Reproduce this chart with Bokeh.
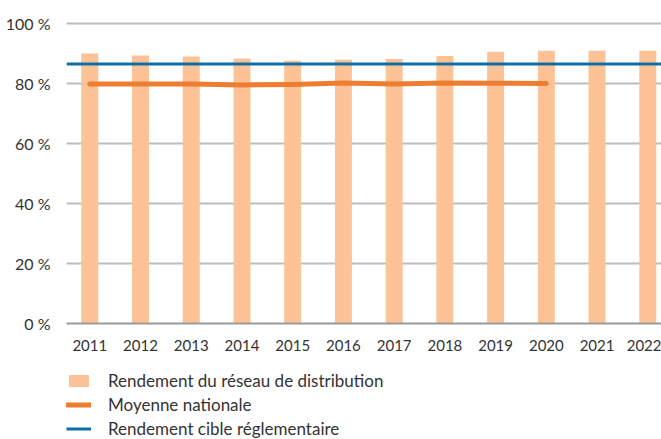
from bokeh.plotting import figure
from bokeh.models import Range1d, FixedTicker, Legend, LegendItem, ColumnDataSource
from bokeh.layouts import column
from bokeh.embed import file_html
from bokeh.resources import INLINE

years = [2011, 2012, 2013, 2014, 2015, 2016, 2017, 2018, 2019, 2020, 2021, 2022]
rendement = [90.0, 89.3, 89.0, 88.3, 87.6, 87.9, 88.2, 89.2, 90.6, 90.9, 90.9, 90.9]
moyenne_years = [2011, 2012, 2013, 2014, 2015, 2016, 2017, 2018, 2019, 2020]
moyenne = [79.8, 79.8, 79.8, 79.5, 79.7, 80.2, 79.8, 80.2, 80.1, 80.0]
cible = 86.5
y_ticks = [0, 20, 40, 60, 80, 100]
y_tick_labels = ["0 %", "20 %", "40 %", "60 %", "80 %", "100 %"]
year_labels = [str(y) for y in years]
legend_labels = ["Rendement du réseau de distribution", "Moyenne nationale",
                 "Rendement cible réglementaire"]

FONT = "Lato"
TXT = "#333333"
BAR = "#FDC296"
ORANGE = "#EF7D31"
BLUE = "#0F6EA5"

X_START, X_END = 2010.541, 2022.27

bar_src = ColumnDataSource(dict(x=years, top=rendement))
moy_src = ColumnDataSource(dict(x=moyenne_years, y=moyenne))
cible_src = ColumnDataSource(dict(x=[X_START, X_END], y=[cible, cible]))


def draw(fig):
    rb = fig.vbar(x="x", top="top", width=0.335, bottom=0, source=bar_src,
                  fill_color=BAR, line_color=None)
    rc = fig.line(x="x", y="y", source=cible_src, line_color=BLUE, line_width=3)
    ro = fig.line(x="x", y="y", source=moy_src, line_color=ORANGE, line_width=5,
                  line_cap="round", line_join="round")
    return rb, ro, rc


p = figure(width=661, height=362, output_backend="svg", toolbar_location=None,
           x_range=Range1d(X_START, X_END), y_range=Range1d(0, 103),
           min_border_left=66, min_border_right=0, min_border_top=14,
           min_border_bottom=39)
p.outline_line_color = None
draw(p)

p.xgrid.grid_line_color = None
p.ygrid.ticker = FixedTicker(ticks=y_ticks)
p.ygrid.grid_line_color = "#BDBDBD"
p.ygrid.grid_line_width = 2

ya = p.yaxis[0]
ya.ticker = FixedTicker(ticks=y_ticks)
ya.major_label_overrides = {t: l for t, l in zip(y_ticks, y_tick_labels)}
ya.axis_line_color = None
ya.major_tick_line_color = None
ya.minor_tick_line_color = None
ya.major_label_standoff = 10
ya.major_label_text_font = FONT
ya.major_label_text_font_size = "16px"
ya.major_label_text_color = TXT

xa = p.xaxis[0]
xa.ticker = FixedTicker(ticks=years)
xa.major_label_overrides = {y: l for y, l in zip(years, year_labels)}
xa.axis_line_color = "#9A9A9A"
xa.axis_line_width = 2
xa.major_tick_line_color = None
xa.minor_tick_line_color = None
xa.major_label_standoff = 10
xa.major_label_text_font = FONT
xa.major_label_text_font_size = "15px"
xa.major_label_text_color = TXT

# legend figure (renderers lie outside its visible range)
lf = figure(width=661, height=77, output_backend="svg", toolbar_location=None,
            x_range=Range1d(0, 1), y_range=Range1d(0, 1),
            min_border_left=65, min_border_right=0, min_border_top=8,
            min_border_bottom=0)
lf.outline_line_color = None
lf.axis.visible = False
lf.grid.visible = False
rb, ro, rc = draw(lf)

legend = Legend(items=[LegendItem(label=legend_labels[0], renderers=[rb]),
                       LegendItem(label=legend_labels[1], renderers=[ro]),
                       LegendItem(label=legend_labels[2], renderers=[rc])],
                orientation="vertical", location="top_left")
legend.border_line_color = None
legend.background_fill_alpha = 0
legend.padding = 0
legend.margin = 0
legend.spacing = 3
legend.glyph_width = 25
legend.glyph_height = 15
legend.label_height = 21
legend.label_standoff = 17
legend.label_text_font = FONT
legend.label_text_font_size = "17px"
legend.label_text_color = TXT
legend.label_text_baseline = "middle"
lf.add_layout(legend, "center")

layout = column(p, lf, spacing=0)
open("out.html", "w").write(file_html(layout, INLINE))
